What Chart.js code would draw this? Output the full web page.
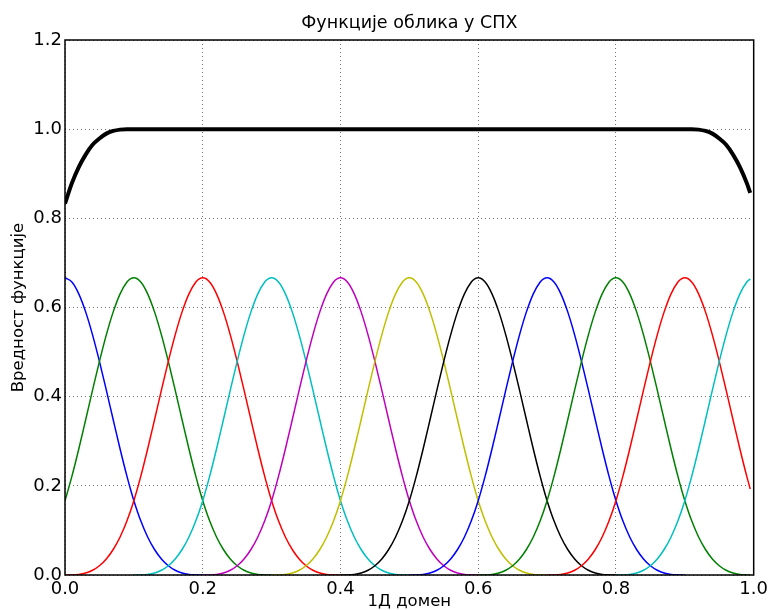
<!DOCTYPE html>
<html>
<head>
<meta charset="utf-8">
<title>Функције облика у СПХ</title>
<script src="https://cdn.jsdelivr.net/npm/chart.js@4"></script>
<style>
  html, body { margin: 0; padding: 0; background: #fff; }
</style>
</head>
<body>
<canvas id="grafik-sph" width="772" height="610"></canvas>
<script>
// centri funkcija oblika i boje (matplotlib b, g, r, c, m, y, k)
var centri = [0.0, 0.1, 0.2, 0.3, 0.4, 0.5, 0.6, 0.7, 0.8, 0.9, 1.0];
var boje = ['#0000ff', '#008000', '#ff0000', '#00bfbf', '#bf00bf', '#bfbf00', '#000000',
            '#0000ff', '#008000', '#ff0000', '#00bfbf'];

// profil jezgra, ocitano sa slike (pomeraj od centra -> vrednost)
var profilPomeraj = [-0.2, -0.19, -0.18, -0.17, -0.16, -0.15, -0.14, -0.13, -0.12, -0.11,
                     -0.1, -0.09, -0.08, -0.07, -0.06, -0.05, -0.04, -0.03, -0.02, -0.01, -0.005,
                     0.0, 0.01, 0.02, 0.03, 0.04, 0.05, 0.06, 0.07, 0.08, 0.09, 0.095,
                     0.1, 0.11, 0.12, 0.13, 0.14, 0.15, 0.16, 0.17, 0.18, 0.19, 0.195, 0.2];
var profilVrednost = [0.0, 0.0002, 0.0013, 0.0045, 0.0107, 0.0208, 0.036, 0.0572, 0.0853, 0.1215,
                      0.1667, 0.2212, 0.2827, 0.3482, 0.4147, 0.4792, 0.5387, 0.5902, 0.6307, 0.6572, 0.6642,
                      0.6667, 0.6572, 0.6307, 0.5902, 0.5387, 0.4792, 0.4147, 0.3482, 0.2827, 0.2212, 0.1929,
                      0.1667, 0.1215, 0.0853, 0.0572, 0.036, 0.0208, 0.0107, 0.0045, 0.0013, 0.0002, 0.0, 0.0];

// zbir svih funkcija (debela crna linija)
var zbirX = [0.0, 0.01, 0.02, 0.03, 0.04, 0.05, 0.06, 0.07, 0.08, 0.09, 0.1,
             0.9, 0.91, 0.92, 0.93, 0.94, 0.95, 0.96, 0.97, 0.98, 0.99, 0.995];
var zbirY = [0.833, 0.879, 0.915, 0.943, 0.965, 0.979, 0.990, 0.996, 0.999, 1.0, 1.0,
             1.0, 1.0, 0.999, 0.996, 0.990, 0.979, 0.965, 0.943, 0.915, 0.879, 0.857];

var domenKraj = 0.995;

var xTikovi = [0.0, 0.2, 0.4, 0.6, 0.8, 1.0];
var yTikovi = [0.0, 0.2, 0.4, 0.6, 0.8, 1.0, 1.2];

(function() {

	var font = '"DejaVu Sans", sans-serif';

	var skupovi = [];

	skupovi.push({
		label: 'zbir',
		data: zbirX.map(function(x, i) { return {x: x, y: zbirY[i]}; }),
		borderColor: '#000000',
		borderWidth: 4,
		pointRadius: 0,
		cubicInterpolationMode: 'monotone',
		order: 0
	});

	centri.forEach(function(c, k) {
		var tacke = [];
		profilPomeraj.forEach(function(o, i) {
			var x = Math.round((c + o) * 1000) / 1000;
			if (x >= 0 && x <= domenKraj + 1e-9) {
				tacke.push({x: x, y: profilVrednost[i]});
			}
		});
		skupovi.push({
			label: 'N' + k,
			data: tacke,
			borderColor: boje[k],
			borderWidth: 1.5,
			pointRadius: 0,
			cubicInterpolationMode: 'monotone',
			order: centri.length - k
		});
	});

	// okvir oko celog grafika
	var okvir = {
		id: 'okvir',
		afterDraw: function(chart) {
			var a = chart.chartArea;
			var ctx = chart.ctx;
			ctx.save();
			ctx.strokeStyle = '#000';
			ctx.lineWidth = 1.5;
			ctx.strokeRect(a.left, a.top, a.right - a.left, a.bottom - a.top);
			ctx.restore();
		}
	};

	var pozadina = {
		id: 'pozadina',
		beforeDraw: function(chart) {
			var ctx = chart.ctx;
			ctx.save();
			ctx.fillStyle = '#fff';
			ctx.fillRect(0, 0, chart.width, chart.height);
			ctx.restore();
		}
	};

	var mreza = {
		color: 'rgba(0,0,0,0.55)',
		lineWidth: 1,
		dash: [1, 3],
		drawTicks: false
	};

	new Chart(document.getElementById('grafik-sph'), {
		type: 'line',
		data: { datasets: skupovi },
		plugins: [pozadina, okvir],
		options: {
			responsive: false,
			animation: false,
			layout: { padding: { left: 0, right: 17, top: 0, bottom: 0 } },
			plugins: {
				legend: { display: false },
				tooltip: { enabled: false },
				title: {
					display: true,
					fullSize: false,
					text: 'Функције облика у СПХ',
					color: '#000',
					font: { family: font, size: 17.5, weight: 'normal' },
					padding: { top: 13, bottom: 6 }
				}
			},
			scales: {
				x: {
					type: 'linear',
					min: 0, max: 1,
					afterBuildTicks: function(s) { s.ticks = xTikovi.map(function(v) { return {value: v}; }); },
					afterFit: function(s) { s.height = 35; },
					ticks: {
						color: '#000',
						font: { family: font, size: 18 },
						padding: 4,
						maxRotation: 0,
						callback: function(v) { return v.toFixed(1); }
					},
					grid: mreza,
					border: { display: false, dash: [1, 3] },
					title: {
						display: true,
						text: '1Д домен',
						color: '#000',
						font: { family: font, size: 16.5, lineHeight: 1.0 },
						padding: { top: 0, bottom: 0 }
					}
				},
				y: {
					type: 'linear',
					min: 0, max: 1.2,
					afterBuildTicks: function(s) { s.ticks = yTikovi.map(function(v) { return {value: v}; }); },
					afterFit: function(s) { s.width = 65; },
					ticks: {
						color: '#000',
						font: { family: font, size: 18 },
						padding: 3,
						callback: function(v) { return v.toFixed(1); }
					},
					grid: mreza,
					border: { display: false, dash: [1, 3] },
					title: {
						display: true,
						text: 'Вредност функције',
						color: '#000',
						font: { family: font, size: 16.5 },
						padding: { top: 8.5, bottom: 0 }
					}
				}
			}
		}
	});

})();
</script>
</body>
</html>
